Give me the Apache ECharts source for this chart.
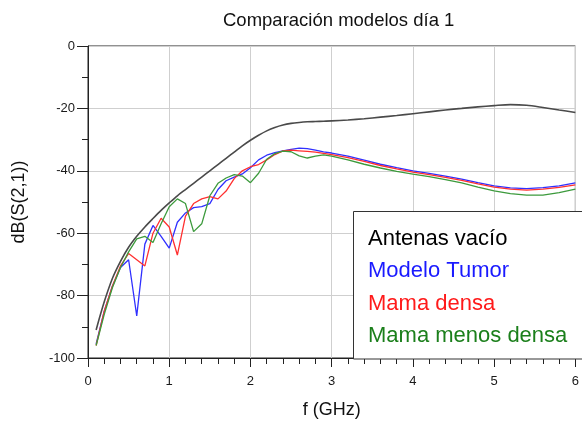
<!DOCTYPE html>
<html lang="es">
<head>
    <meta charset="UTF-8">
    <title>Comparación modelos día 1</title>
    <script src="https://cdn.jsdelivr.net/npm/echarts@6/dist/echarts.min.js"></script>
    <style>
        html, body { margin: 0; padding: 0; background: #fff; }
        #container { width: 582px; height: 424px; }
    </style>
</head>
<body>
<div id="container"></div>
<script type="text/javascript">
    // frecuencias (GHz)
    var freq = [0.1, 0.2, 0.3, 0.4, 0.5, 0.6, 0.7, 0.8, 0.9, 1.0,
        1.1, 1.2, 1.3, 1.4, 1.5, 1.6, 1.7, 1.8, 1.9, 2.0,
        2.1, 2.2, 2.3, 2.4, 2.5, 2.6, 2.7, 2.8, 2.9, 3.0,
        3.2, 3.4, 3.6, 3.8, 4.0, 4.2, 4.4, 4.6, 4.8, 5.0, 5.2, 5.4, 5.6, 5.8, 6.0];

    var antenasVacio = [-91, -82, -74.5, -69, -64.5, -61, -58, -55.3, -52.7, -50.3,
        -48, -46, -44, -42, -40, -38, -36, -34, -32, -30.2,
        -28.6, -27.2, -26.1, -25.3, -24.8, -24.5, -24.3, -24.2, -24.1, -24,
        -23.7, -23.3, -22.8, -22.3, -21.7, -21.1, -20.5, -20, -19.5, -19.1, -18.8, -19, -19.7, -20.5, -21.3];

    var modeloTumor = [-95.5, -85, -77, -71, -68.5, -86.5, -63.5, -57.5, -61, -64.8,
        -56.5, -53.5, -51.8, -51.5, -50.5, -46, -43.2, -42, -41, -39,
        -36.5, -35, -34.2, -33.6, -33.1, -32.7, -32.9, -33.4, -33.9, -34.3,
        -35.3, -36.6, -37.9, -39, -40, -40.8, -41.7, -42.7, -43.8, -44.8, -45.5, -45.7, -45.4, -44.8, -43.9];

    var mamaDensa = [-96, -85, -77, -70.5, -66.5, -68.5, -70.5, -60, -55.2, -58,
        -67, -54.5, -50.5, -49, -48.3, -49, -46.5, -42.5, -40, -38.7,
        -38, -36.5, -34.8, -33.6, -33.4, -33.6, -33.8, -34, -34.4, -34.8,
        -35.8, -37, -38.3, -39.4, -40.4, -41.2, -42.1, -43.1, -44.2, -45.2, -45.9, -46.2, -45.9, -45.3, -44.5];

    var mamaMenosDensa = [-96, -86, -77.5, -71, -66, -61.8, -61, -63, -57, -51.5,
        -49, -50.5, -59.5, -57, -48, -44, -42.3, -41.2, -41.7, -43.8,
        -40.8, -36.3, -34.5, -33.7, -33.9, -35.2, -35.9, -35.3, -34.9, -35.3,
        -36.5, -37.9, -39.1, -40.2, -41.1, -41.9, -42.8, -43.9, -45.2, -46.4, -47.3, -47.8, -47.8, -47, -45.9];

    var nombres = ['Antenas vacío', 'Modelo Tumor', 'Mama densa', 'Mama menos densa'];
    var coloresLinea = ['#4a4a4a', '#3030ff', '#ff3030', '#3c9a3c'];
    var coloresTexto = ['#000000', '#1a1aff', '#ff1a1a', '#1b7f1b'];
    var valores = [antenasVacio, modeloTumor, mamaDensa, mamaMenosDensa];

    var fuente = "'Liberation Sans', Arial, sans-serif";

    function pares(arr) {
        return freq.map(function (f, i) { return [f, arr[i]]; });
    }

    var dom = document.getElementById("container");
    var myChart = echarts.init(dom);

    var series = valores.map(function (arr, k) {
        return {
            name: nombres[k],
            type: 'line',
            data: pares(arr),
            showSymbol: false,
            smooth: k === 0 ? 0.3 : false,
            lineStyle: { color: coloresLinea[k], width: k === 0 ? 1.6 : 1.3 },
            itemStyle: { color: coloresLinea[k] },
            animation: false,
            z: 2
        };
    });

    // cuadro de leyenda dibujado a mano
    var leyenda = [{
        type: 'rect',
        left: 353,
        top: 211,
        z: 100,
        shape: { width: 240, height: 147.5 },
        style: { fill: '#fff', stroke: '#333', lineWidth: 1 }
    }];
    nombres.forEach(function (n, k) {
        leyenda.push({
            type: 'text',
            left: 368,
            top: 228 + k * 32.3,
            z: 101,
            style: { text: n, fill: coloresTexto[k], font: '22px ' + fuente }
        });
    });

    var option = {
        animation: false,
        title: {
            text: 'Comparación modelos día 1',
            left: 218,
            top: 6,
            textStyle: { fontSize: 18.5, fontWeight: 'normal', color: '#111', fontFamily: fuente }
        },
        grid: {
            left: 88,
            right: -2,
            top: 46,
            bottom: 65,
            show: true,
            borderColor: '#222',
            borderWidth: 1
        },
        xAxis: {
            type: 'value',
            min: 0,
            max: 6,
            interval: 1,
            name: 'f (GHz)',
            nameLocation: 'middle',
            nameGap: 43,
            nameTextStyle: { fontSize: 18, color: '#111', fontFamily: fuente },
            axisLine: { onZero: false, lineStyle: { color: '#222', width: 1 } },
            axisTick: { show: true, length: 9, lineStyle: { color: '#222' } },
            minorTick: { show: true, splitNumber: 5, length: 6, lineStyle: { color: '#222' } },
            axisLabel: { fontSize: 13, color: '#1a1a1a', margin: 17, fontFamily: fuente },
            splitLine: { show: true, lineStyle: { color: '#cfcfcf', width: 1 } }
        },
        yAxis: {
            type: 'value',
            min: -100,
            max: 0,
            interval: 20,
            name: 'dB(S(2,1))',
            nameLocation: 'middle',
            nameGap: 60,
            nameTextStyle: { fontSize: 18, color: '#111', fontFamily: fuente },
            axisLine: { show: true, onZero: false, lineStyle: { color: '#222', width: 1 } },
            axisTick: { show: true, length: 11, lineStyle: { color: '#222' } },
            minorTick: { show: true, splitNumber: 2, length: 6, lineStyle: { color: '#222' } },
            axisLabel: { fontSize: 13, color: '#1a1a1a', margin: 13, fontFamily: fuente },
            splitLine: { show: true, lineStyle: { color: '#cfcfcf', width: 1 } }
        },
        graphic: leyenda,
        series: series
    };

    if (option && typeof option === "object") {
        myChart.setOption(option, true);
    }
</script>
</body>
</html>
